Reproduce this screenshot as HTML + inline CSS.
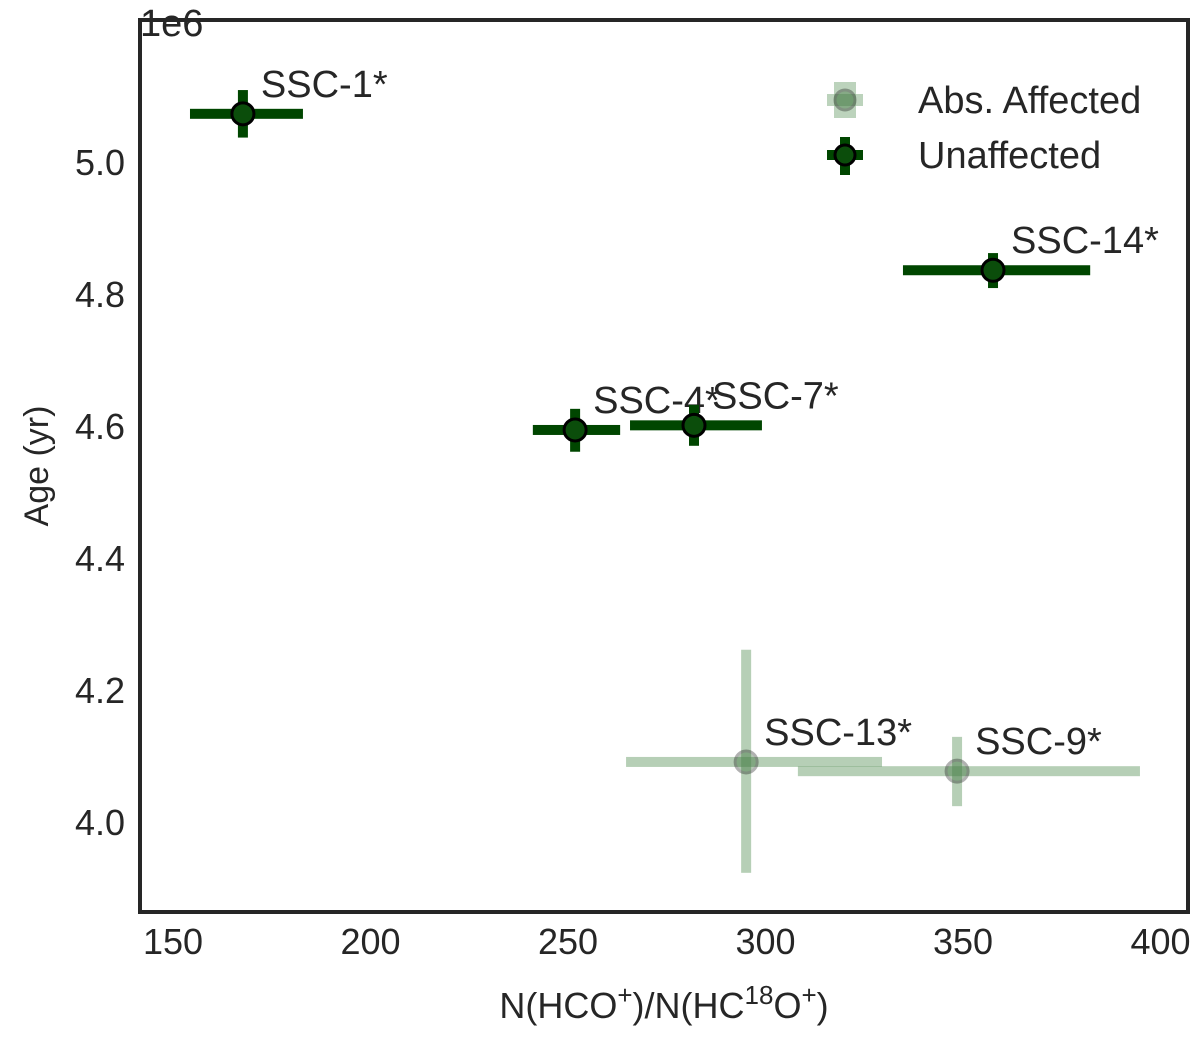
<!DOCTYPE html>
<html><head><meta charset="utf-8"><style>
body{margin:0;background:#fff}
svg text{font-family:"Liberation Sans",sans-serif;fill:#262626}
</style></head><body>
<svg id="chart" width="1200" height="1035" xmlns="http://www.w3.org/2000/svg">
<rect width="1200" height="1035" fill="#fff"/>
<g id="marks"></g>
<rect x="140" y="20" width="1048" height="892" fill="none" stroke="#262626" stroke-width="4"/>
<text x="140" y="36" font-size="38">1e6</text>
<text x="664" y="1018" font-size="36" text-anchor="middle">N(HCO<tspan font-size="26" dy="-14">+</tspan><tspan dy="14">)/N(HC</tspan><tspan font-size="26" dy="-14">18</tspan><tspan dy="14">O</tspan><tspan font-size="26" dy="-14">+</tspan><tspan dy="14">)</tspan></text>
<text transform="translate(48,466) rotate(-90)" font-size="34" text-anchor="middle">Age (yr)</text>
<g>
<rect x="834" y="82" width="22" height="36" fill="#7aa77a" opacity="0.5"/>
<rect x="827" y="94" width="36" height="12" fill="#7aa77a" opacity="0.5"/>
<circle cx="845" cy="100" r="10" fill="#0b4d0b" stroke="#000" stroke-width="3" opacity="0.3"/>
<text x="918" y="113" font-size="38">Abs. Affected</text>
<rect x="840" y="137" width="10" height="38" fill="#004600"/>
<rect x="827" y="150" width="36" height="10" fill="#004600"/>
<circle cx="845" cy="155" r="10" fill="#0b4d0b" stroke="#000" stroke-width="3"/>
<text x="918" y="168" font-size="38">Unaffected</text>
</g>
</svg>
<script>
const names=["SSC-1*","SSC-4*","SSC-7*","SSC-14*","SSC-13*","SSC-9*"];
const xVals=[167.7,251.8,281.9,357.6,295.1,348.5];
const xLo=[154.3,241.1,265.7,334.8,264.7,308.2];
const xHi=[182.9,263.2,299.1,382.2,329.5,394.8];
const yVals=[5.073,4.594,4.601,4.836,4.091,4.077];
const yLo=[5.037,4.561,4.570,4.809,3.923,4.024];
const yHi=[5.109,4.626,4.632,4.862,4.261,4.129];
const affected=[false,false,false,false,true,true];
const xTicks=[150,200,250,300,350,400];
const yTicks=[4.0,4.2,4.4,4.6,4.8,5.0];
const X=v=>173+(v-150)*3.95;
const Y=v=>822-(v-4.0)*660;
const NS="http://www.w3.org/2000/svg";
const g=document.getElementById('marks');
function mk(tag,a){const e=document.createElementNS(NS,tag);for(const k in a)e.setAttribute(k,a[k]);g.appendChild(e);return e;}
xTicks.forEach(t=>{const e=mk('text',{x:X(t),y:954,'font-size':36,'text-anchor':'middle'});e.textContent=t;

});
yTicks.forEach(t=>{const e=mk('text',{x:125,y:Y(t)+13,'font-size':36,'text-anchor':'end'});e.textContent=t.toFixed(1);

});
names.forEach((n,i)=>{
 const a=affected[i];const col=a?'#7aa77a':'#004600';const op=a?0.55:1;
 const h=mk('rect',{x:X(xLo[i]),y:Y(yVals[i])-5,width:X(xHi[i])-X(xLo[i]),height:10,fill:col,opacity:op});
 
 
 const v=mk('rect',{x:X(xVals[i])-5,y:Y(yHi[i]),width:10,height:Y(yLo[i])-Y(yHi[i]),fill:col,opacity:op});
 
 
 const c=mk('circle',{cx:X(xVals[i]),cy:Y(yVals[i]),r:11,fill:'#0b4d0b',stroke:'#000','stroke-width':3,opacity:a?0.3:1});
 
 
 const t=mk('text',{x:X(xVals[i])+18,y:Y(yVals[i])-17,'font-size':38});t.textContent=n;
 
 
});
</script>
</body></html>
